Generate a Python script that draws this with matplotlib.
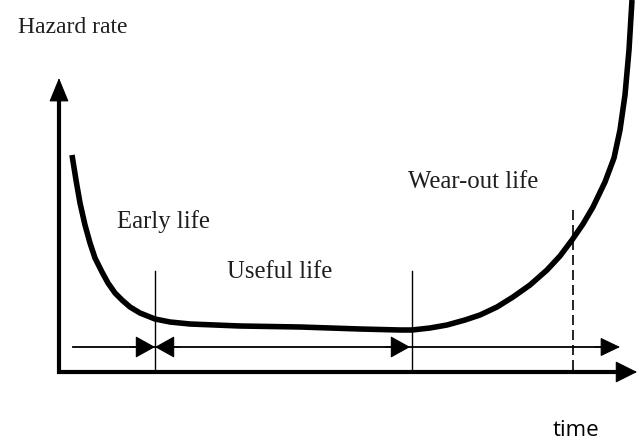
import matplotlib.pyplot as plt

# bathtub curve (pixel-like units, y grows downward)
curve_x = [72, 76, 80, 85, 90, 95, 102, 108, 115, 122, 130, 140, 155, 170, 190,
           240, 300, 360, 400, 412, 430, 447, 465, 480, 497, 513, 530, 547, 560,
           572, 583, 593, 605, 614, 620, 625, 629, 632]
curve_y = [155, 180, 203, 225, 243, 258, 272, 283, 293, 300, 307, 313, 319, 322, 324,
           326, 327, 329, 330, 330, 328, 325, 320, 315, 307, 297, 285, 270, 256,
           240, 224, 207, 182, 158, 130, 95, 50, 0]

boundaries = [155, 412]      # early/useful, useful/wear-out
dashed_at = 573
phase_labels = ['Early life', 'Useful life', 'Wear-out life']
label_pos = [(117, 228), (227, 278), (408, 188)]

fig = plt.figure(figsize=(6.41, 4.41), dpi=100)
ax = fig.add_axes([0, 0, 1, 1])
ax.set_xlim(0, 641)
ax.set_ylim(441, 0)
ax.axis('off')

axis_y = 372
axis_x = 59
phase_y = 347
ms = 14  # points, ~19 px

# axes (L shape) with arrow heads
ax.plot([axis_x, axis_x, 625], [95, axis_y, axis_y], color='black', lw=3, solid_joinstyle='miter')
ax.annotate('', xy=(axis_x, 78), xytext=(axis_x, 105),
            arrowprops=dict(arrowstyle='-|>,head_length=1.1,head_width=0.45', lw=0.8,
                            color='black', mutation_scale=ms, shrinkA=0, shrinkB=0))
ax.annotate('', xy=(637, axis_y), xytext=(610, axis_y),
            arrowprops=dict(arrowstyle='-|>,head_length=1.0,head_width=0.5', lw=0.8,
                            color='black', mutation_scale=ms, shrinkA=0, shrinkB=0))

# phase arrows
ax.plot([73, 610], [phase_y, phase_y], color='black', lw=1.3)
arr = dict(arrowstyle='-|>,head_length=0.9,head_width=0.5', lw=0.8, color='black',
           mutation_scale=ms, shrinkA=0, shrinkB=0)
ax.annotate('', xy=(boundaries[0], phase_y), xytext=(boundaries[0] - 25, phase_y), arrowprops=arr)
ax.annotate('', xy=(boundaries[0], phase_y), xytext=(boundaries[0] + 25, phase_y), arrowprops=arr)
ax.annotate('', xy=(boundaries[1] - 2, phase_y), xytext=(boundaries[1] - 27, phase_y), arrowprops=arr)
ax.annotate('', xy=(620, phase_y), xytext=(595, phase_y),
            arrowprops=dict(arr, arrowstyle='-|>,head_length=0.9,head_width=0.43'))

# vertical boundary lines
for b in boundaries:
    ax.plot([b, b], [271, axis_y], color='black', lw=1.0)
ax.plot([dashed_at, dashed_at], [210, axis_y], color='black', lw=1.2, ls=(0, (6, 3)))

# the curve
ax.plot(curve_x, curve_y, color='black', lw=4, solid_capstyle='butt', solid_joinstyle='round')

# texts
serif = 'Liberation Serif'
ax.text(18, 33, 'Hazard rate', family=serif, fontsize=17, va='baseline', ha='left', color='#1e1e1e')
for lab, (px, py) in zip(phase_labels, label_pos):
    ax.text(px, py, lab, family=serif, fontsize=17.8, va='baseline', ha='left', color='#1e1e1e')
ax.text(553, 436, 'time', family='Open Sans', fontsize=16, va='baseline', ha='left', color='black')

fig.savefig('out.png', dpi=100)
